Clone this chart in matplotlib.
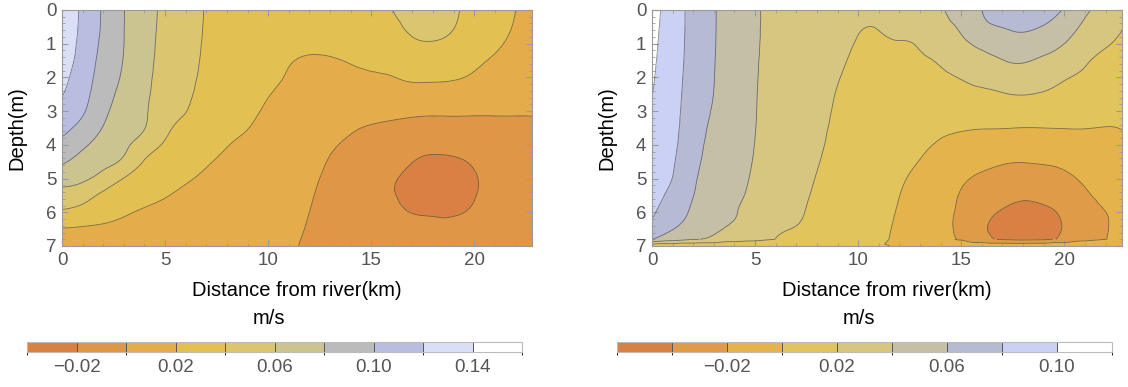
import numpy as np
import matplotlib
matplotlib.use("Agg")
import matplotlib.pyplot as plt
import matplotlib.tri as mtri
from matplotlib.colors import ListedColormap, BoundaryNorm
from matplotlib.cm import ScalarMappable
from matplotlib.ticker import MultipleLocator

plt.rcParams['font.family'] = ['Liberation Sans', 'DejaVu Sans']

# grid
dist = [0, 1, 2, 3, 4, 5, 6, 7, 8, 9, 10, 11, 12, 13, 14, 15, 16, 17, 18, 19, 20, 21, 22, 22.8]
depth_left = [0, 0.5, 1, 1.5, 2, 2.5, 3, 3.5, 4, 4.5, 5, 5.5, 6, 6.5, 7]
depth_right = [0, 0.5, 1, 1.5, 2, 2.5, 3, 3.5, 4, 4.5, 5, 5.5, 6, 6.5, 6.8, 7]

# speed (m/s), one list per distance column, top to bottom
left_speed = [
    [0.138, 0.137, 0.135, 0.131, 0.126, 0.121, 0.114, 0.105, 0.095, 0.0825, 0.068, 0.053, 0.037, 0.019, 0.008],
    [0.116, 0.1155, 0.114, 0.112, 0.109, 0.106, 0.102, 0.094, 0.083, 0.073, 0.063, 0.048, 0.0326, 0.018, 0.008],
    [0.098, 0.0975, 0.096, 0.094, 0.092, 0.089, 0.085, 0.079, 0.072, 0.0645, 0.053, 0.036, 0.026, 0.017, 0.008],
    [0.0805, 0.0803, 0.0801, 0.0793, 0.0775, 0.0745, 0.071, 0.0672, 0.0628, 0.0565, 0.0395, 0.030, 0.022, 0.015, 0.007],
    [0.067, 0.067, 0.0665, 0.066, 0.065, 0.0637, 0.0622, 0.0605, 0.0508, 0.0388, 0.032, 0.0251, 0.0182, 0.012, 0.0065],
    [0.056, 0.0555, 0.055, 0.054, 0.0525, 0.0505, 0.048, 0.0437, 0.0383, 0.0322, 0.0265, 0.0208, 0.0155, 0.010, 0.006],
    [0.047, 0.0468, 0.0463, 0.0455, 0.0443, 0.0425, 0.0403, 0.0367, 0.0322, 0.0273, 0.0218, 0.0165, 0.0115, 0.0075, 0.005],
    [0.039, 0.0388, 0.0383, 0.0375, 0.0363, 0.0345, 0.0322, 0.0295, 0.0263, 0.0217, 0.017, 0.0125, 0.009, 0.006, 0.0045],
    [0.035, 0.0347, 0.034, 0.033, 0.0315, 0.0293, 0.0265, 0.0235, 0.0205, 0.0172, 0.0135, 0.010, 0.0072, 0.0055, 0.004],
    [0.033, 0.0325, 0.0317, 0.0305, 0.029, 0.0265, 0.0232, 0.0203, 0.0173, 0.0145, 0.0113, 0.0085, 0.0062, 0.0047, 0.0035],
    [0.032, 0.0313, 0.0297, 0.0272, 0.0245, 0.0207, 0.018, 0.0155, 0.013, 0.0108, 0.0085, 0.0065, 0.005, 0.004, 0.003],
    [0.032, 0.030, 0.027, 0.0215, 0.0185, 0.016, 0.014, 0.012, 0.0102, 0.0085, 0.0068, 0.0053, 0.004, 0.003, 0.002],
    [0.033, 0.030, 0.0245, 0.018, 0.0145, 0.012, 0.0098, 0.0078, 0.006, 0.0045, 0.003, 0.0015, 0.0, -0.0015, -0.003],
    [0.034, 0.0315, 0.0255, 0.0185, 0.0145, 0.011, 0.0075, 0.0045, 0.0015, -0.0008, -0.003, -0.005, -0.0065, -0.0075, -0.008],
    [0.036, 0.0335, 0.028, 0.0213, 0.0155, 0.0105, 0.0058, 0.0015, -0.0022, -0.0055, -0.0085, -0.0105, -0.0115, -0.012, -0.012],
    [0.038, 0.0355, 0.0305, 0.024, 0.018, 0.0122, 0.0055, -0.0013, -0.0065, -0.011, -0.0145, -0.0165, -0.0165, -0.0155, -0.014],
    [0.0398, 0.037, 0.032, 0.0255, 0.0195, 0.0128, 0.0045, -0.0035, -0.0105, -0.0155, -0.0188, -0.0193, -0.0178, -0.0155, -0.013],
    [0.046, 0.043, 0.0375, 0.0305, 0.0225, 0.0135, 0.0035, -0.006, -0.0145, -0.0198, -0.0235, -0.024, -0.0203, -0.017, -0.0145],
    [0.048, 0.0445, 0.039, 0.0315, 0.0225, 0.0135, 0.003, -0.0072, -0.016, -0.0225, -0.0265, -0.0268, -0.021, -0.0185, -0.0155],
    [0.0425, 0.0405, 0.0355, 0.029, 0.0215, 0.0125, 0.003, -0.0068, -0.0155, -0.0215, -0.025, -0.0252, -0.021, -0.0175, -0.015],
    [0.033, 0.031, 0.0275, 0.023, 0.018, 0.011, 0.0025, -0.0065, -0.0145, -0.0188, -0.0208, -0.0205, -0.0185, -0.016, -0.0138],
    [0.0265, 0.025, 0.022, 0.0185, 0.014, 0.0085, 0.002, -0.005, -0.011, -0.015, -0.0168, -0.0168, -0.0155, -0.0138, -0.012],
    [0.020, 0.0188, 0.0168, 0.014, 0.0105, 0.0063, 0.0015, -0.0038, -0.0085, -0.0118, -0.0135, -0.0138, -0.013, -0.0118, -0.0105],
    [0.015, 0.0142, 0.0127, 0.0106, 0.008, 0.0048, 0.0012, -0.0028, -0.0065, -0.0092, -0.0107, -0.011, -0.0105, -0.0095, -0.0085],
]

right_speed = [
    [0.108, 0.1065, 0.105, 0.1035, 0.102, 0.1003, 0.0977, 0.095, 0.0923, 0.0895, 0.0866, 0.0845, 0.0825, 0.072, 0.0605, 0.004],
    [0.0895, 0.089, 0.0885, 0.088, 0.0872, 0.0864, 0.0855, 0.0845, 0.0832, 0.0815, 0.0797, 0.0755, 0.0695, 0.0605, 0.05, 0.004],
    [0.0745, 0.0742, 0.0738, 0.0733, 0.0726, 0.0718, 0.0708, 0.0695, 0.068, 0.066, 0.0633, 0.0604, 0.0565, 0.05, 0.041, 0.004],
    [0.0612, 0.0611, 0.0609, 0.0606, 0.0603, 0.0598, 0.0585, 0.0565, 0.0545, 0.0525, 0.05, 0.047, 0.0445, 0.0425, 0.0375, 0.004],
    [0.052, 0.0519, 0.0517, 0.0514, 0.051, 0.0504, 0.0497, 0.0487, 0.0475, 0.046, 0.0442, 0.0422, 0.0405, 0.037, 0.029, 0.004],
    [0.042, 0.0419, 0.0417, 0.0414, 0.0411, 0.0408, 0.0406, 0.0403, 0.0397, 0.0388, 0.0375, 0.0358, 0.0338, 0.0308, 0.0252, 0.004],
    [0.037, 0.0368, 0.0365, 0.036, 0.0355, 0.0348, 0.034, 0.033, 0.0318, 0.0305, 0.029, 0.0272, 0.025, 0.0222, 0.0198, 0.004],
    [0.033, 0.0328, 0.0325, 0.032, 0.0313, 0.0305, 0.0295, 0.0283, 0.0268, 0.0255, 0.024, 0.0225, 0.0212, 0.0196, 0.017, 0.004],
    [0.030, 0.0298, 0.0295, 0.029, 0.0283, 0.0274, 0.0262, 0.0245, 0.0228, 0.021, 0.0194, 0.0182, 0.0172, 0.0162, 0.0148, 0.004],
    [0.027, 0.0265, 0.0255, 0.0237, 0.0212, 0.0188, 0.0172, 0.016, 0.015, 0.0142, 0.0135, 0.0128, 0.0122, 0.0115, 0.0105, 0.003],
    [0.0245, 0.0212, 0.0188, 0.0165, 0.015, 0.0138, 0.0128, 0.012, 0.0112, 0.0105, 0.0098, 0.0091, 0.0083, 0.0075, 0.0065, 0.002],
    [0.0235, 0.0206, 0.0178, 0.0155, 0.0138, 0.0122, 0.011, 0.0098, 0.0087, 0.0075, 0.0063, 0.005, 0.004, 0.003, 0.0025, 0.001],
    [0.025, 0.023, 0.0192, 0.0157, 0.0132, 0.0108, 0.0086, 0.0066, 0.0047, 0.003, 0.0014, 0.0001, -0.001, -0.002, -0.0025, -0.0008],
    [0.0275, 0.0255, 0.0215, 0.0175, 0.0135, 0.0098, 0.0068, 0.0042, 0.0018, -0.0003, -0.0025, -0.0045, -0.0062, -0.0075, -0.0082, -0.002],
    [0.038, 0.0345, 0.029, 0.0222, 0.0162, 0.0112, 0.007, 0.0025, -0.0015, -0.0055, -0.0088, -0.0115, -0.0135, -0.0148, -0.0155, -0.003],
    [0.046, 0.0425, 0.0365, 0.0302, 0.021, 0.0148, 0.0085, 0.0015, -0.0055, -0.0118, -0.0172, -0.0215, -0.0238, -0.0245, -0.0222, -0.003],
    [0.060, 0.055, 0.0435, 0.035, 0.0255, 0.0165, 0.0085, 0.0005, -0.0075, -0.0155, -0.0228, -0.0292, -0.0345, -0.0375, -0.035, -0.004],
    [0.068, 0.0605, 0.0495, 0.0395, 0.0295, 0.019, 0.0098, 0.0004, -0.0095, -0.0185, -0.0265, -0.0335, -0.0415, -0.0445, -0.042, -0.004],
    [0.072, 0.0635, 0.052, 0.0415, 0.031, 0.0205, 0.0098, -0.0002, -0.0102, -0.0195, -0.0285, -0.0372, -0.0455, -0.048, -0.0445, -0.004],
    [0.067, 0.059, 0.047, 0.0375, 0.028, 0.0185, 0.009, 0.0, -0.0095, -0.0185, -0.0268, -0.0352, -0.0435, -0.0462, -0.043, -0.004],
    [0.059, 0.0505, 0.040, 0.0325, 0.0215, 0.0158, 0.0078, 0.0003, -0.0085, -0.0165, -0.0235, -0.0305, -0.0365, -0.0385, -0.0362, -0.004],
    [0.044, 0.036, 0.0295, 0.0222, 0.0172, 0.0118, 0.0058, 0.0003, -0.006, -0.0118, -0.0175, -0.022, -0.0255, -0.027, -0.0255, -0.003],
    [0.034, 0.0285, 0.0215, 0.0168, 0.0125, 0.0083, 0.004, -0.0003, -0.0048, -0.0095, -0.0138, -0.0175, -0.0201, -0.0207, -0.0203, -0.003],
    [0.031, 0.0215, 0.0175, 0.014, 0.0105, 0.007, 0.0033, 0.0003, -0.0035, -0.0075, -0.011, -0.014, -0.016, -0.0165, -0.016, -0.002],
]

left_levels = [-0.04, -0.02, 0.0, 0.02, 0.04, 0.06, 0.08, 0.10, 0.12, 0.14, 0.16]
left_colors = ['#D98044', '#DF9646', '#E4AC4B', '#E3C052', '#DBC56E', '#CBC491',
               '#BBBBBB', '#B9BDE0', '#DADFF7', '#FFFFFF']
left_ticks = [-0.02, 0.02, 0.06, 0.10, 0.14]
left_ticklabels = ['\u22120.02', '0.02', '0.06', '0.10', '0.14']

right_levels = [-0.06, -0.04, -0.02, 0.0, 0.02, 0.04, 0.06, 0.08, 0.10, 0.12]
right_colors = ['#D98044', '#E09B48', '#E5B34C', '#E2C45C', '#D6C67F', '#C5C0A5',
                '#B6BAD2', '#CBD0F5', '#FFFFFF']
right_ticks = [-0.02, 0.02, 0.06, 0.10]
right_ticklabels = ['\u22120.02', '0.02', '0.06', '0.10']

tick_grey = '#555555'
frame_grey = '#9a9a9a'
line_kw = dict(colors='#333333', linewidths=0.6, alpha=0.6, linestyles='solid')

# km and m drawn at about the same screen size, so refine in those units
sx, sz = 20.6, 33.7

fig = plt.figure(figsize=(11.28, 3.87), dpi=100)


def grid_tri(x, z):
    # rectangular grid, cells split along the down-left diagonal
    nx, nz = len(x), len(z)
    X, Z = np.meshgrid(np.array(x, float) * sx, np.array(z, float) * sz)
    tris = []
    for i in range(nz - 1):
        for j in range(nx - 1):
            a = i * nx + j
            tris.append([a, a + 1, a + nx])
            tris.append([a + 1, a + nx + 1, a + nx])
    return mtri.Triangulation(X.ravel(), Z.ravel(), np.array(tris))


def unscale(t):
    return mtri.Triangulation(t.x / sx, t.y / sz, t.triangles)


def draw_panel(ax_rect, cax_rect, depth, speed, levels, colors, ticks, ticklabels,
               xl, mslabel_x, n_smooth):
    ax = fig.add_axes(ax_rect)
    V = np.array(speed).T

    # smooth body of the section
    tri = grid_tri(dist, depth[:n_smooth])
    tri_f, v_f = mtri.UniformTriRefiner(tri).refine_field(V[:n_smooth].ravel(), subdiv=3)
    tri_f = unscale(tri_f)
    ax.tricontourf(tri_f, v_f, levels=levels, colors=colors)
    ax.tricontour(tri_f, v_f, levels=levels, **line_kw)

    # thin bottom layer, kept linear
    if n_smooth < len(depth):
        tri_b = unscale(grid_tri(dist, depth[n_smooth - 1:]))
        vb = V[n_smooth - 1:].ravel()
        ax.tricontourf(tri_b, vb, levels=levels, colors=colors)
        ax.tricontour(tri_b, vb, levels=levels, **line_kw)

    ax.set_xlim(0, dist[-1])
    ax.set_ylim(7, 0)
    ax.xaxis.set_major_locator(MultipleLocator(5))
    ax.xaxis.set_minor_locator(MultipleLocator(1))
    ax.yaxis.set_major_locator(MultipleLocator(1))
    ax.yaxis.set_minor_locator(MultipleLocator(0.2))
    ax.tick_params(which='both', direction='in', top=True, right=True,
                   color=frame_grey, labelcolor=tick_grey, labelsize=13.5, pad=4)
    ax.tick_params(which='major', length=4, width=0.8)
    ax.tick_params(which='minor', length=2, width=0.6)
    for s in ax.spines.values():
        s.set_color(frame_grey)
        s.set_linewidth(0.8)

    # axis titles
    x0, y0, w, h = ax_rect
    fig.text(xl, y0 + h / 2, 'Depth(m)', rotation=90, ha='center', va='center', fontsize=14.5)
    fig.text(x0 + w / 2, 1 - 291 / 387, 'Distance from river(km)', ha='center', va='center', fontsize=14.5)

    cax = fig.add_axes(cax_rect)
    cmap = ListedColormap(colors)
    norm = BoundaryNorm(levels, cmap.N)
    cb = fig.colorbar(ScalarMappable(norm=norm, cmap=cmap), cax=cax,
                      orientation='horizontal', drawedges=True)
    cb.outline.set_edgecolor('#bbbbbb')
    cb.outline.set_linewidth(0.8)
    cb.dividers.set_color('#555555')
    cb.dividers.set_linewidth(0.7)
    cb.set_ticks(ticks)
    cb.set_ticklabels(ticklabels)
    cax.tick_params(length=0, labelsize=13.5, labelcolor=tick_grey, pad=5)
    fig.text(mslabel_x, 1 - 319 / 387, 'm/s', ha='center', va='center', fontsize=14.5)


draw_panel([62 / 1128, 1 - 246 / 387, 470 / 1128, 236 / 387],
           [27 / 1128, 1 - 352 / 387, 495 / 1128, 10 / 387],
           depth_left, left_speed, left_levels, left_colors,
           left_ticks, left_ticklabels, 17 / 1128, 269 / 1128, len(depth_left))
draw_panel([652 / 1128, 1 - 246 / 387, 470 / 1128, 236 / 387],
           [617 / 1128, 1 - 352 / 387, 495 / 1128, 10 / 387],
           depth_right, right_speed, right_levels, right_colors,
           right_ticks, right_ticklabels, 607 / 1128, 859 / 1128, len(depth_right) - 1)

fig.savefig('out.png', dpi=100)
